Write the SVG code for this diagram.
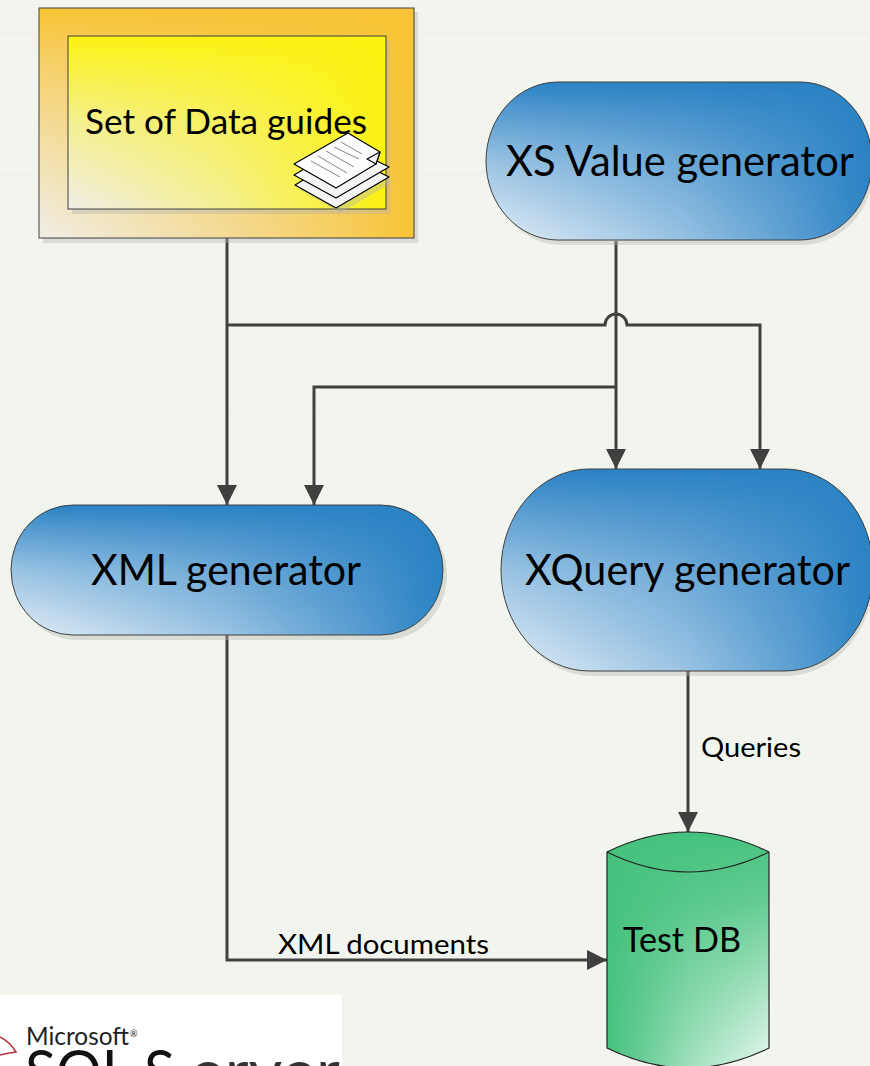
<svg xmlns="http://www.w3.org/2000/svg" width="870" height="1066" viewBox="0 0 870 1066">
<style>
text{font-family:Lato,"Open Sans","Liberation Sans",sans-serif;fill:#000}
.big{font-size:43px}
.mid{font-size:35px}
.sm{font-size:27px}
.edge{fill:none;stroke:#404040;stroke-width:3}
.out{stroke:#404040;stroke-width:1;fill:none}
.shadow{fill:#b4b4b0;opacity:.4}
.sheet{fill:#f4f4f4;stroke:#000;stroke-width:1.2;stroke-linejoin:round}
.ln{stroke:#888;stroke-width:1;fill:none}
.band{fill:#f0f3ec}
</style>
<defs>
<marker id="arr" markerUnits="userSpaceOnUse" markerWidth="22" markerHeight="22" refX="20" refY="10" orient="auto"><path d="M0 0L20 10L0 20z" fill="#404040"/></marker>
<linearGradient id="bh"><stop offset="0" stop-color="#2a82c4" stop-opacity=".03"/><stop offset=".5" stop-color="#2a82c4" stop-opacity=".42"/><stop offset=".8" stop-color="#2a82c4" stop-opacity=".75"/><stop offset="1" stop-color="#2a82c4"/></linearGradient>
<linearGradient id="bv" x2="0" y2="1"><stop offset="0" stop-color="#2a82c4"/><stop offset=".2" stop-color="#2a82c4" stop-opacity=".75"/><stop offset=".5" stop-color="#2a82c4" stop-opacity=".42"/><stop offset="1" stop-color="#2a82c4" stop-opacity=".03"/></linearGradient>
<linearGradient id="oh"><stop offset="0" stop-color="#f8c435" stop-opacity="0"/><stop offset=".5" stop-color="#f8c435" stop-opacity=".45"/><stop offset=".8" stop-color="#f8c435" stop-opacity=".75"/><stop offset="1" stop-color="#f8c435"/></linearGradient>
<linearGradient id="ov" x2="0" y2="1"><stop offset="0" stop-color="#f8c435"/><stop offset=".2" stop-color="#f8c435" stop-opacity=".75"/><stop offset=".5" stop-color="#f8c435" stop-opacity=".45"/><stop offset="1" stop-color="#f8c435" stop-opacity="0"/></linearGradient>
<linearGradient id="yh"><stop offset="0" stop-color="#fbf211" stop-opacity="0"/><stop offset=".5" stop-color="#fbf211" stop-opacity=".4"/><stop offset=".8" stop-color="#fbf211" stop-opacity=".75"/><stop offset="1" stop-color="#fbf211"/></linearGradient>
<linearGradient id="yv" x2="0" y2="1"><stop offset="0" stop-color="#fbf211"/><stop offset=".2" stop-color="#fbf211" stop-opacity=".75"/><stop offset=".5" stop-color="#fbf211" stop-opacity=".4"/><stop offset="1" stop-color="#fbf211" stop-opacity="0"/></linearGradient>
<linearGradient id="gh" x1="1" x2="0"><stop offset="0" stop-color="#46c27e" stop-opacity="0"/><stop offset=".5" stop-color="#46c27e" stop-opacity=".45"/><stop offset=".8" stop-color="#46c27e" stop-opacity=".8"/><stop offset="1" stop-color="#46c27e"/></linearGradient>
<linearGradient id="gv" x2="0" y2="1"><stop offset="0" stop-color="#46c27e"/><stop offset=".3" stop-color="#46c27e" stop-opacity=".8"/><stop offset=".6" stop-color="#46c27e" stop-opacity=".45"/><stop offset="1" stop-color="#46c27e" stop-opacity="0"/></linearGradient>
</defs>
<rect width="870" height="1066" fill="#f2f5ee"/>
<rect class="band" x="0" y="30" width="870" height="5"/>
<rect class="band" x="0" y="171" width="870" height="5"/>
<rect class="band" x="0" y="409" width="870" height="5"/>
<g id="connectors">
<path class="edge" d="M227 238V505" marker-end="url(#arr)"/>
<path class="edge" d="M227 325H605A11 11 0 0 1 627 325H760V469" marker-end="url(#arr)"/>
<path class="edge" d="M616 241V469" marker-end="url(#arr)"/>
<path class="edge" d="M616 387H314V505" marker-end="url(#arr)"/>
<path class="edge" d="M227 635V960H607" marker-end="url(#arr)"/>
<path class="edge" d="M688 671V832" marker-end="url(#arr)"/>
</g>
<g id="data-guides">
<rect class="shadow" x="43" y="12" width="375" height="231"/>
<rect x="39" y="8" width="375" height="230" fill="#f0eee8"/>
<rect x="39" y="8" width="375" height="230" fill="url(#oh)"/>
<rect x="39" y="8" width="375" height="230" fill="url(#ov)"/>
<rect class="out" x="39" y="8" width="375" height="230"/>
<rect class="shadow" x="72" y="40" width="318" height="174"/>
<rect x="68" y="36" width="318" height="173" fill="#f0eee8"/>
<rect x="68" y="36" width="318" height="173" fill="url(#yh)"/>
<rect x="68" y="36" width="318" height="173" fill="url(#yv)"/>
<rect class="out" x="68" y="36" width="318" height="173"/>
<text class="mid" x="85" y="134" textLength="282" lengthAdjust="spacingAndGlyphs">Set of Data guides</text>
<path class="shadow" d="M299 189L349 160L393 182L340 213z"/>
<path class="sheet" d="M295 185L345 155L389 177L336 208z"/>
<path class="sheet" d="M294 175L345 145L389 167L336 198z"/>
<path class="sheet" d="M294 164L348 133L380 152L376 164L336 188z" style="fill:#fdfdfd"/>
<path class="sheet" d="M367 159L380 152L376 164z"/>
<path class="ln" d="M341 142L362 154M334 147L359 159M326 151L354 167M318 156L347 173M311 161L340 177"/>
</g>
<g id="xs-value">
<rect class="shadow" x="490" y="87" width="384" height="158" rx="72" ry="79"/>
<rect x="486" y="82" width="386" height="158" rx="72" ry="79" fill="#f0f5fa"/>
<rect x="486" y="82" width="386" height="158" rx="72" ry="79" fill="url(#bh)"/>
<rect x="486" y="82" width="386" height="158" rx="72" ry="79" fill="url(#bv)"/>
<rect class="out" x="486" y="82" width="386" height="158" rx="72" ry="79"/>
<text class="big" x="506" y="176" textLength="348" lengthAdjust="spacingAndGlyphs">XS Value generator</text>
</g>
<g id="xml-gen">
<rect class="shadow" x="15" y="510" width="432" height="130" rx="62" ry="65"/>
<rect x="11" y="505" width="432" height="130" rx="62" ry="65" fill="#f0f5fa"/>
<rect x="11" y="505" width="432" height="130" rx="62" ry="65" fill="url(#bh)"/>
<rect x="11" y="505" width="432" height="130" rx="62" ry="65" fill="url(#bv)"/>
<rect class="out" x="11" y="505" width="432" height="130" rx="62" ry="65"/>
<text class="big" x="91" y="585" textLength="270" lengthAdjust="spacingAndGlyphs">XML generator</text>
</g>
<g id="xquery-gen">
<rect class="shadow" x="505" y="474" width="369" height="202" rx="88" ry="101"/>
<rect x="501" y="469" width="372" height="202" rx="88" ry="101" fill="#f0f5fa"/>
<rect x="501" y="469" width="372" height="202" rx="88" ry="101" fill="url(#bh)"/>
<rect x="501" y="469" width="372" height="202" rx="88" ry="101" fill="url(#bv)"/>
<rect class="out" x="501" y="469" width="372" height="202" rx="88" ry="101"/>
<text class="big" x="525" y="585" textLength="325" lengthAdjust="spacingAndGlyphs">XQuery generator</text>
</g>
<g id="test-db">
<path d="M607 852Q688 812 769 852V1048Q688 1088 607 1048z" fill="#e8f8ef"/>
<path d="M607 852Q688 812 769 852V1048Q688 1088 607 1048z" fill="url(#gh)"/>
<path d="M607 852Q688 812 769 852V1048Q688 1088 607 1048z" fill="url(#gv)"/>
<path d="M607 852Q688 812 769 852V1048Q688 1088 607 1048zM607 852Q688 892 769 852" fill="none" stroke="#222" stroke-width="1.2"/>
<text class="mid" x="623" y="952" textLength="118" lengthAdjust="spacingAndGlyphs">Test DB</text>
</g>
<g id="labels">
<text class="sm" x="701" y="757" textLength="100" lengthAdjust="spacingAndGlyphs">Queries</text>
<text class="sm" x="278" y="954" textLength="211" lengthAdjust="spacingAndGlyphs">XML documents</text>
</g>
<g id="logo">
<rect x="0" y="995" width="342" height="71" fill="#fff"/>
<path d="M0 1037Q10 1042 16 1052Q8 1053 0 1055" stroke="#b5303a" stroke-width="1.5" fill="none"/>
<text x="26" y="1045" font-size="25" style="fill:#222" textLength="103" lengthAdjust="spacingAndGlyphs">Microsoft</text>
<text x="130" y="1037" font-size="9" style="fill:#222">®</text>
<text x="25" y="1093" font-size="60" style="fill:#111" textLength="150" lengthAdjust="spacingAndGlyphs">SQL S</text>
<text x="190" y="1093" font-size="60" style="fill:#333" textLength="150" lengthAdjust="spacingAndGlyphs">erver</text>
</g>
</svg>
